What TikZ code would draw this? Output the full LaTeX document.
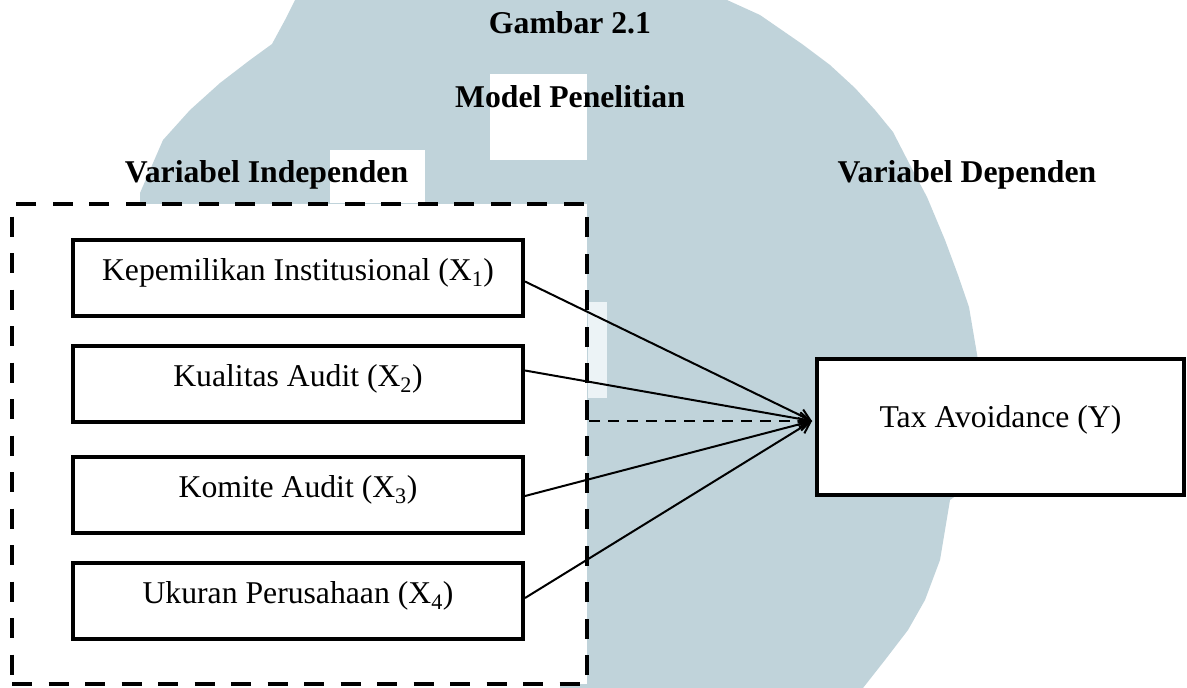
\documentclass[tikz,border=0pt]{standalone}
\usepackage{fontspec}
\setmainfont{Liberation Serif}
\usetikzlibrary{arrows.meta}
\definecolor{wmark}{RGB}{192,211,218}
\definecolor{wlight}{RGB}{236,243,246}
\tikzset{
  vbox/.style={draw, line width=4pt, fill=white, minimum width=450pt, minimum height=76pt,
    inner sep=0pt, text height=22pt, text depth=17pt, font=\fontsize{31.7}{38}\selectfont},
  ybox/.style={draw, line width=4pt, fill=white, minimum width=367pt, minimum height=136pt,
    inner sep=0pt, text height=20pt, text depth=20pt, font=\fontsize{31.7}{38}\selectfont},
  frame/.style={draw, line width=4pt, fill=white, dash pattern=on 20pt off 16.5pt,
    minimum width=575pt, minimum height=480pt, inner sep=0pt},
  ttl/.style={anchor=base, inner sep=0pt, font=\fontsize{31.7}{38}\selectfont\bfseries},
  arr/.style={line width=2pt, -{Straight Barb[length=11pt,width=13pt,line width=2pt]}},
  darr/.style={arr, dash pattern=on 11pt off 8pt},
}
\begin{document}
\begin{tikzpicture}[x=1pt,y=-1pt]
\useasboundingbox (0,0) rectangle (1187,688);
% watermark
\fill[wmark] (295,0) -- (727,0) -- (760,15) -- (802,44) -- (830,65) -- (855,88) -- (875,110)
  -- (893,132) -- (910,165) -- (927,197) -- (945,240) -- (958,275) -- (969,307) -- (978,360)
  -- (978,480) -- (950,500) -- (940,560) -- (925,600) -- (908,630) -- (885,660) -- (863,688)
  -- (560,688) -- (560,205) -- (140,205) -- (140,193) -- (163,140) -- (190,110) -- (220,83)
  -- (250,60) -- (272,44) -- (285,20) -- cycle;
\fill[white] (490,74) rectangle (587,160);
\fill[white] (330,150) rectangle (425,203);
\fill[wlight] (588,302) rectangle (607,398);
% titles
\node[ttl] (t1) at (570,34) {Gambar 2.1};
\node[ttl] (t2) at (570,107) {Model Penelitian};
\node[ttl] (t3) at (266.5,182) {Variabel Independen};
\node[ttl] (t4) at (967,182) {Variabel Dependen};
% frame
\node[frame] (indep) at (299.5,444) {};
% boxes
\node[vbox] (x1) at (298,277.5) {Kepemilikan Institusional (X\textsubscript{1})};
\node[vbox] (x2) at (298,383.5) {Kualitas Audit (X\textsubscript{2})};
\node[vbox] (x3) at (298,494.5) {Komite Audit (X\textsubscript{3})};
\node[vbox] (x4) at (298,601) {Ukuran Perusahaan (X\textsubscript{4})};
\node[ybox] (y) at (1000.5,427) {Tax Avoidance (Y)};
\coordinate (tip) at ([xshift=-3pt,yshift=6pt]y.west);
% connectors
\draw[arr] ([yshift=-4pt]x1.east) -- (tip);
\draw[arr] ([yshift=13pt]x2.east) -- (tip);
\draw[arr] ([yshift=-1.5pt]x3.east) -- (tip);
\draw[arr] ([yshift=3pt]x4.east) -- (tip);
\draw[darr] (indep.east |- tip) -- (tip);
\end{tikzpicture}
\end{document}
